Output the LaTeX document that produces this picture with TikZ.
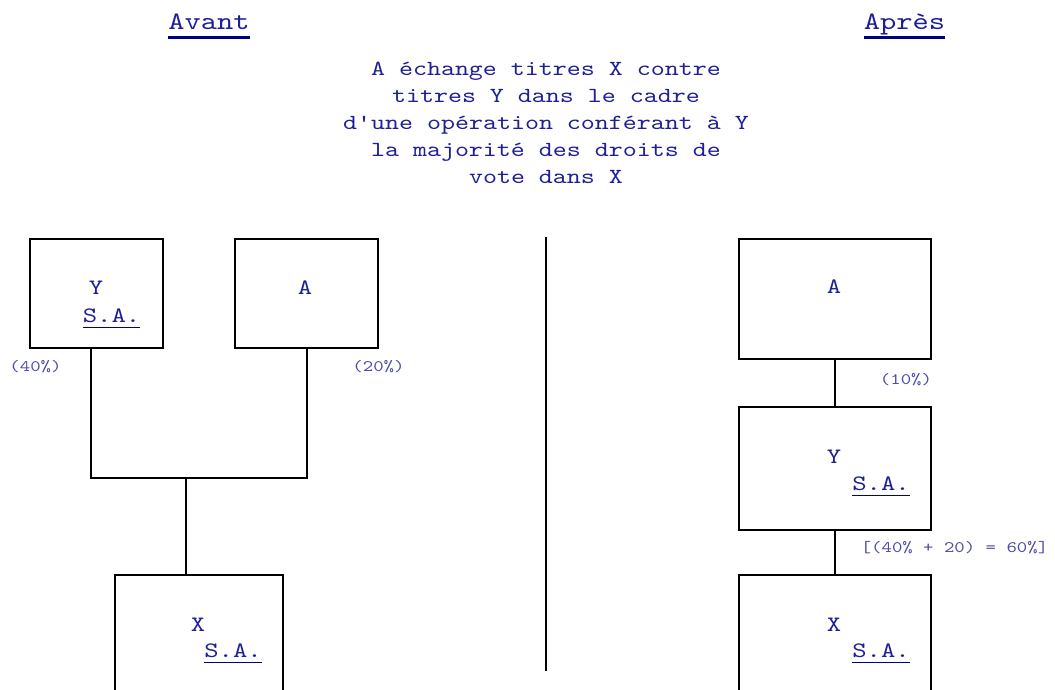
\documentclass[tikz,border=0pt]{standalone}
\usepackage{fontspec}
\newfontfamily\machine[FakeStretch=1.24]{lmmono10-regular.otf}
\usetikzlibrary{calc}

\definecolor{encre}{RGB}{30,30,150}
\definecolor{pale}{RGB}{75,75,170}
\definecolor{trait}{RGB}{0,0,130}

% souligne a la machine
\newsavebox\soulbox
\newlength\soullen
\newcommand{\souligne}[2][0.055em]{%
  \sbox\soulbox{#2}\setlength\soullen{\wd\soulbox}%
  \usebox\soulbox\kern-\soullen
  {\color{trait}\rule[\dimexpr-0.24em-#1\relax]{\soullen}{#1}}}

\tikzset{
  titre/.style={anchor=base, inner sep=0pt, text=encre, font=\machine\fontsize{25}{30}\selectfont},
  consigne/.style={align=center, inner sep=0pt, text=encre, font=\machine\fontsize{21.5}{27}\selectfont},
  nom/.style={anchor=base, inner sep=0pt, text=encre, font=\machine\fontsize{22}{26}\selectfont},
  taux/.style={anchor=base, inner sep=0pt, text=pale, font=\machine\fontsize{16}{19}\selectfont},
  boite/.style={draw, line width=1.8pt, anchor=north west, inner sep=0pt},
  lien/.style={line width=1.8pt}
}

\begin{document}
\begin{tikzpicture}[x=1pt,y=-1pt]
  \useasboundingbox (0,0) rectangle (1055,690);

  \node[titre] (avant) at (209,30) {\souligne[0.12em]{Avant}};
  \node[titre] (apres) at (904.5,30) {\souligne[0.12em]{Après}};

  \node[consigne] (echange) at (546,123) {A échange titres X contre\\titres Y dans le cadre\\d'une opération conférant à Y\\la majorité des droits de\\vote dans X};

  % separation
  \coordinate (haut) at (546,237);
  \coordinate (bas) at (546,671);
  \draw[lien] (haut) -- (bas);

  % avant
  \node[boite, minimum width=133pt, minimum height=109pt] (ybox) at (29,238) {};
  \node[boite, minimum width=143pt, minimum height=109pt] (abox) at (234,238) {};
  \node[boite, minimum width=168pt, minimum height=150pt] (xbox) at (114,574) {};

  \node[nom] (ynom) at (96,294) {Y};
  \node[nom] (ysa) at (111.5,322) {\souligne{S.A.}};
  \node[nom] (anom) at (305,294) {A};
  \node[nom] (xnom) at (198,631) {X};
  \node[nom] (xsa) at (233,657) {\souligne{S.A.}};

  \coordinate (fourche) at (186,478);
  \draw[lien] ([xshift=-5.5pt]ybox.south) |- (fourche);
  \draw[lien] ([xshift=0.5pt]abox.south) |- (fourche);
  \draw[lien] (fourche) -- (fourche |- xbox.north);

  % apres
  \node[boite, minimum width=192pt, minimum height=120pt] (rabox) at (738,238) {};
  \node[boite, minimum width=192pt, minimum height=123pt] (rybox) at (738,406) {};
  \node[boite, minimum width=192pt, minimum height=150pt] (rxbox) at (738,574) {};

  \node[nom] (ranom) at (834,293) {A};
  \node[nom] (rynom) at (834,463) {Y};
  \node[nom] (rysa) at (881,490) {\souligne{S.A.}};
  \node[nom] (rxnom) at (834,631) {X};
  \node[nom] (rxsa) at (881,657) {\souligne{S.A.}};

  \draw[lien] (rabox) -- (rybox);
  \draw[lien] (rybox) -- (rxbox);

  % pourcentages
  \foreach \n/\pos/\txt in {q40/{(35.5,371)}/{(40\%)}, q20/{(378.5,371)}/{(20\%)},
                            q10/{(906,384)}/{(10\%)}, q60/{(954.5,552)}/{[(40\% + 20) = 60\%]}}
    \node[taux] (\n) at \pos {\txt};

\end{tikzpicture}
\end{document}
